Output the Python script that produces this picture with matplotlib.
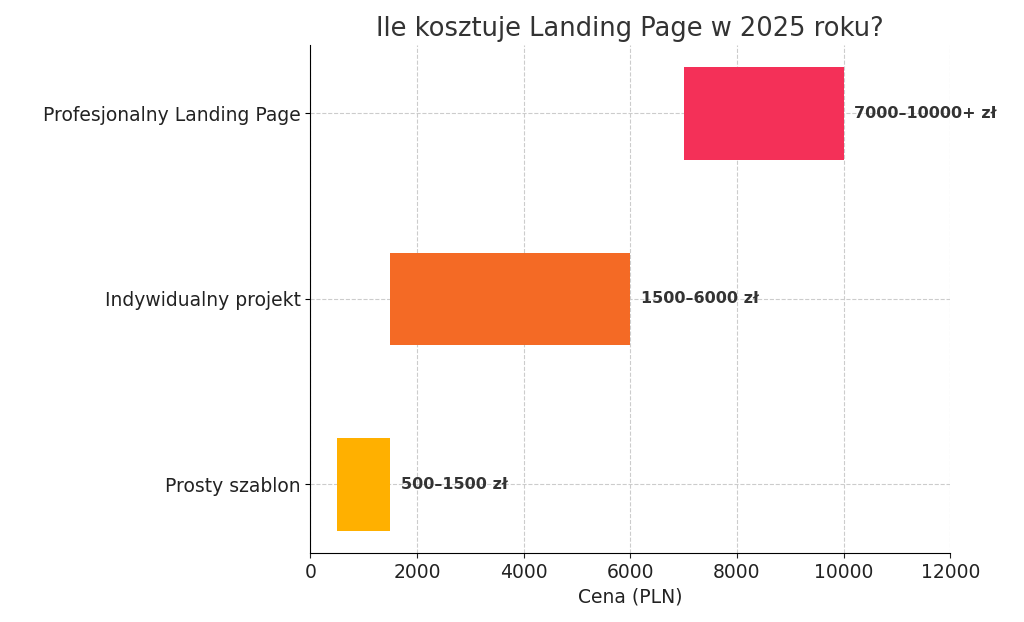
import matplotlib
matplotlib.use("Agg")
import matplotlib.pyplot as plt

categories = ["Prosty szablon", "Indywidualny projekt", "Profesjonalny Landing Page"]
starts = [500, 1500, 7000]
ends = [1500, 6000, 10000]
labels = ["500–1500 zł", "1500–6000 zł", "7000–10000+ zł"]
colors = ["#FFB000", "#F46A25", "#F43058"]

fig = plt.figure(figsize=(10.24, 6.22), dpi=100)
ax = fig.add_axes([0.303, 0.111, 0.625, 0.817])
widths = [e - s for s, e in zip(starts, ends)]
ax.barh(range(len(categories)), widths, left=starts, height=0.5, color=colors, zorder=3)
for i, (e, l) in enumerate(zip(ends, labels)):
    ax.text(e + 200, i, l, va="center", ha="left", fontsize=11.5, fontweight="bold", color="#333333")
ax.set_yticks(range(len(categories)))
ax.set_yticklabels(categories, fontsize=13.5, color="#222222")
ax.set_xlim(0, 12000)
ax.set_xticks(range(0, 12001, 2000))
ax.tick_params(axis="x", labelsize=13.5, colors="#222222")
ax.set_ylim(-0.37, 2.37)
ax.set_xlabel("Cena (PLN)", fontsize=13.5, color="#222222")
ax.set_title("Ile kosztuje Landing Page w 2025 roku?", fontsize=18.5, color="#333333", pad=6)
ax.grid(True, linestyle="--", color="#cccccc", linewidth=0.8, zorder=0)
ax.spines["top"].set_visible(False)
ax.spines["right"].set_visible(False)
fig.savefig("out.png", dpi=100)
